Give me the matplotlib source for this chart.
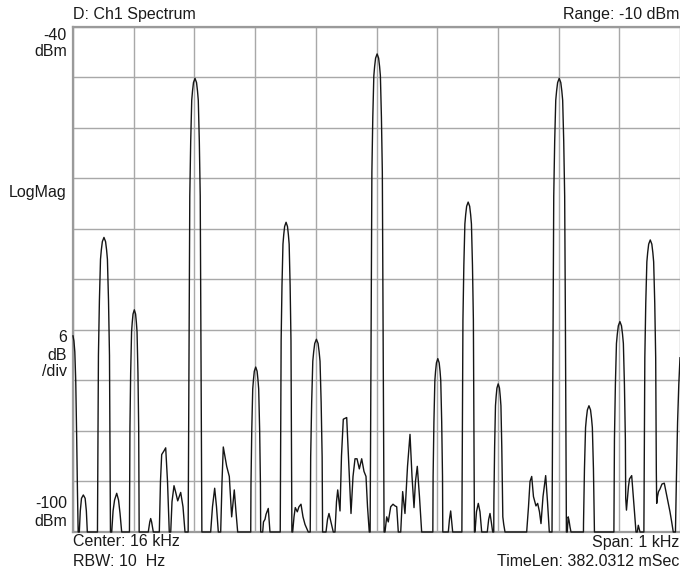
import numpy as np
import matplotlib
matplotlib.use("Agg")
import matplotlib.pyplot as plt

freq_hz = [
    15500.0, 15501.5, 15503.0, 15504.5, 15506.0, 15507.3, 15508.5,
    15510.4, 15512.0, 15514.0, 15517.0, 15520.0, 15522.0, 15523.6,
    15540.3, 15540.8, 15541.35, 15541.9, 15543.5, 15545.3, 15546.65, 15548.35, 15551.0,
    15553.65, 15555.35, 15556.7, 15558.5, 15560.1, 15560.65, 15561.2, 15561.7,
    15563.8, 15566.0, 15568.5, 15572.0, 15575.0, 15577.5, 15580.2,
    15593.0, 15593.4, 15593.8, 15595.0, 15596.5, 15597.6, 15598.9, 15601.0,
    15603.1, 15604.4, 15605.5, 15607.0, 15608.2, 15608.6, 15609.0,
    15624.0, 15626.5, 15628.0, 15629.5, 15632.3,
    15642.2, 15644.1, 15646.1, 15650.4, 15652.7, 15655.7, 15658.6,
    15661.0, 15663.1, 15666.4, 15668.9, 15672.5, 15677.4, 15681.2, 15684.5,
    15689.7, 15690.5, 15691.4, 15691.9, 15692.4, 15693.9, 15695.6, 15696.9, 15698.5, 15701.0,
    15703.5, 15705.1, 15706.4, 15708.1, 15709.6, 15710.1, 15710.6, 15711.5, 15712.3,
    15726.8, 15729.8, 15733.4, 15736.4, 15739.4,
    15743.3, 15745.5, 15747.6, 15753.2, 15757.5, 15761.4, 15765.7, 15768.5, 15771.3,
    15792.8, 15793.2, 15794.5, 15796.1, 15797.3, 15798.7, 15801.0,
    15803.3, 15804.7, 15805.9, 15807.5, 15808.8, 15809.2,
    15812.5, 15813.8, 15816.3, 15818.0, 15821.7, 15824.5,
    15841.4, 15842.0, 15842.45, 15842.9, 15844.3, 15845.9, 15847.15, 15848.65, 15851.0,
    15853.35, 15854.85, 15856.1, 15857.7, 15859.1, 15859.55, 15860.0, 15860.6,
    15861.9, 15864.1, 15866.2, 15869.5, 15872.3, 15875.6, 15878.9, 15882.2, 15887.6,
    15890.8, 15891.0, 15891.55, 15893.2, 15895.05, 15896.5, 15898.25, 15901.0,
    15903.75, 15905.5, 15906.95, 15908.8, 15910.45, 15911.0, 15911.2,
    15916.8, 15919.3, 15921.7, 15925.0, 15928.8,
    15931.6, 15934.1, 15936.1, 15939.9, 15942.3, 15945.3, 15950.9, 15953.0, 15958.0,
    15961.3, 15964.6, 15967.9, 15971.7, 15975.6, 15979.4, 15982.7, 15985.2, 15988.1,
    15989.5, 15990.5, 15991.4, 15991.9, 15992.4, 15993.9, 15995.6, 15996.9, 15998.5, 16001.0,
    16003.5, 16005.1, 16006.4, 16008.1, 16009.6, 16010.1, 16010.6, 16011.5, 16012.5,
    16014.0, 16016.8, 16019.4, 16023.4, 16027.2, 16030.5, 16033.3, 16035.9,
    16039.9, 16043.1, 16046.9, 16051.1, 16055.2, 16058.5, 16061.8, 16064.2, 16067.2,
    16070.8, 16074.4,
    16092.8, 16093.25, 16094.6, 16096.15, 16097.3, 16098.75, 16101.0,
    16103.25, 16104.7, 16105.85, 16107.4, 16108.75, 16109.2,
    16118.3, 16120.2, 16122.2, 16124.0, 16125.5,
    16140.65, 16141.4, 16141.9, 16142.4, 16143.9, 16145.6, 16146.9, 16148.5, 16151.0,
    16153.5, 16155.1, 16156.4, 16158.1, 16159.6, 16160.1, 16160.6, 16161.35,
    16162.3, 16164.7, 16167.7, 16170.5, 16173.3,
    16182.5, 16184.8, 16187.0, 16189.1, 16191.4,
    16193.15, 16193.4, 16194.6, 16196.0, 16197.1, 16198.4, 16200.5,
    16202.6, 16203.9, 16205.0, 16206.4, 16207.6, 16208.1, 16209.6, 16211.7,
    16247.4, 16250.4, 16252.9, 16255.7, 16258.6, 16262.7, 16265.5, 16268.5, 16271.0,
    16274.3, 16278.7, 16281.7, 16284.7,
    16289.15, 16290.0, 16290.9, 16291.45, 16292.0, 16293.55, 16295.3, 16296.7, 16298.4, 16301.0,
    16303.6, 16305.3, 16306.7, 16308.45, 16310.0, 16310.55, 16311.1, 16312.0, 16312.85,
    16314.3, 16315.8, 16317.1, 16318.8, 16320.4,
    16340.95, 16341.05, 16342.6, 16344.4, 16345.75, 16347.4, 16350.0,
    16352.6, 16354.25, 16355.6, 16357.4, 16358.95, 16359.05,
    16391.1, 16391.45, 16392.0, 16393.55, 16395.3, 16396.7, 16398.4, 16401.0,
    16403.6, 16405.3, 16406.7, 16408.45, 16410.0, 16410.55, 16411.8,
    16415.1, 16416.8, 16420.4, 16422.5, 16425.0, 16427.5, 16429.6, 16431.3, 16434.1,
    16440.5, 16441.0, 16441.55, 16442.05, 16443.6, 16445.4, 16446.75, 16448.4, 16451.0,
    16453.6, 16455.25, 16456.6, 16458.4, 16459.95, 16460.45, 16461.0, 16461.6,
    16462.9, 16464.6, 16467.0, 16470.3, 16474.1, 16476.9, 16480.7, 16483.5, 16486.3,
    16488.9,
    16492.5, 16494.0, 16496.0, 16498.0, 16500.0,
]

nivel_dbm = [
    -76.7, -77.3, -78.6, -82.0, -88.5, -95.0, -100,
    -100, -97.5, -96.0, -95.6, -96.0, -97.5, -100,
    -100, -92.5, -86.0, -79.0, -72.5, -67.6, -66.5, -65.5, -65.0,
    -65.5, -66.5, -67.6, -72.5, -79.0, -86.0, -92.5, -100,
    -100, -97.5, -96.2, -95.4, -96.2, -97.8, -100,
    -100, -94.6, -87.6, -81.1, -76.2, -75.1, -74.1, -73.6,
    -74.1, -75.1, -76.2, -81.1, -87.6, -94.6, -100,
    -100, -98.8, -98.4, -98.8, -100,
    -100, -94.0, -90.8, -90.3, -90.0, -94.0, -100,
    -100, -96.4, -94.5, -95.2, -96.3, -95.3, -97.0, -100,
    -100, -88.1, -73.6, -67.1, -60.1, -53.6, -48.7, -47.6, -46.6, -46.1,
    -46.6, -47.6, -48.7, -53.6, -60.1, -67.1, -73.6, -88.1, -100,
    -100, -97.0, -94.8, -97.0, -100,
    -100, -94.0, -89.9, -92.2, -93.4, -98.2, -95.0, -97.6, -100,
    -100, -94.4, -87.9, -83.0, -81.9, -80.9, -80.4,
    -80.9, -81.9, -83.0, -87.9, -94.4, -100,
    -100, -98.8, -98.5, -97.9, -97.2, -100,
    -100, -90.7, -84.2, -77.2, -70.7, -65.8, -64.7, -63.7, -63.2,
    -63.7, -64.7, -65.8, -70.7, -77.2, -84.2, -90.7, -100,
    -100, -98.2, -97.1, -97.6, -97.0, -96.7, -98.2, -99.1, -100,
    -100, -98.1, -91.1, -84.6, -79.7, -78.6, -77.6, -77.1,
    -77.6, -78.6, -79.7, -84.6, -91.1, -98.1, -100,
    -100, -98.5, -97.8, -98.8, -100,
    -100, -96.4, -95.0, -97.5, -91.0, -86.6, -86.4, -89.8, -97.8,
    -93.4, -91.3, -91.3, -92.5, -91.3, -92.8, -93.4, -97.0, -100,
    -100, -85.2, -70.7, -64.2, -57.2, -50.7, -45.8, -44.7, -43.7, -43.2,
    -43.7, -44.7, -45.8, -50.7, -57.2, -64.2, -70.7, -85.2, -100,
    -100, -98.2, -98.8, -97.0, -96.7, -96.9, -97.0, -100,
    -100, -95.2, -97.8, -92.2, -88.4, -93.4, -97.1, -94.0, -92.2,
    -95.8, -100,
    -100, -93.4, -86.9, -82.0, -80.9, -79.9, -79.4,
    -79.9, -80.9, -82.0, -86.9, -93.4, -100,
    -100, -98.5, -97.5, -98.8, -100,
    -100, -88.3, -81.8, -74.8, -68.3, -63.4, -62.3, -61.3, -60.8,
    -61.3, -62.3, -63.4, -68.3, -74.8, -81.8, -88.3, -100,
    -100, -97.6, -96.6, -97.6, -100,
    -100, -98.5, -97.8, -98.8, -100,
    -100, -96.4, -89.9, -85.0, -83.9, -82.9, -82.4,
    -82.9, -83.9, -85.0, -89.9, -96.4, -98.2, -99.1, -100,
    -100, -97.0, -94.0, -93.4, -95.8, -96.9, -96.6, -97.6, -99.0,
    -95.8, -93.3, -96.4, -100,
    -100, -88.1, -73.6, -67.1, -60.1, -53.6, -48.7, -47.6, -46.6, -46.1,
    -46.6, -47.6, -48.7, -53.6, -60.1, -67.1, -73.6, -88.1, -100,
    -100, -98.2, -98.6, -99.4, -100,
    -100, -99.0, -92.5, -87.6, -86.5, -85.5, -85.0,
    -85.5, -86.5, -87.6, -92.5, -99.0, -100,
    -100, -96.0, -89.0, -82.5, -77.6, -76.5, -75.5, -75.0,
    -75.5, -76.5, -77.6, -82.5, -89.0, -96.0, -97.4,
    -94.6, -93.7, -93.3, -95.2, -97.6, -100, -100, -99.2, -100,
    -100, -92.8, -86.3, -79.3, -72.8, -67.9, -66.8, -65.8, -65.3,
    -65.8, -66.8, -67.9, -72.8, -79.3, -86.3, -92.8, -96.6,
    -95.8, -95.2, -94.9, -94.3, -94.2, -95.2, -96.6, -97.6, -98.8,
    -100,
    -100, -94.0, -87.0, -82.5, -79.3,
]

# configuracao da tela
centro_hz = 16000
span_hz = 1000
ref_dbm = -40
escala_db = 6
n_div = 10

plt.rcParams['font.family'] = ['Liberation Sans', 'DejaVu Sans']

fig = plt.figure(figsize=(6.8, 5.69), dpi=100)
ax = fig.add_axes([73/680, 37/569, 607/680, 505/569])

ax.plot(freq_hz, nivel_dbm, color='#151515', lw=1.0, clip_on=False, zorder=3)

ax.set_xlim(centro_hz - span_hz/2, centro_hz + span_hz/2)
ax.set_ylim(ref_dbm - escala_db*n_div, ref_dbm)
ax.set_xticks(np.linspace(centro_hz - span_hz/2, centro_hz + span_hz/2, n_div + 1))
ax.set_yticks(np.linspace(ref_dbm - escala_db*n_div, ref_dbm, n_div + 1))
ax.tick_params(length=0, labelbottom=False, labelleft=False)
ax.grid(True, color='#a8a8a8', lw=1.0)
ax.set_axisbelow(True)
for lado in ['left', 'top', 'bottom']:
    ax.spines[lado].set_color('#9a9a9a')
    ax.spines[lado].set_linewidth(1.6)
ax.spines['right'].set_visible(False)

fs = 11.5
cor = '#1a1a1a'
fig.text(73/680, 1 - 15/569, "D: Ch1 Spectrum", ha='left', va='center', fontsize=fs, color=cor)
fig.text(679/680, 1 - 15/569, "Range: -10 dBm", ha='right', va='center', fontsize=fs, color=cor)
fig.text(67/680, 1 - 35/569, "-40", ha='right', va='center', fontsize=fs, color=cor)
fig.text(67/680, 1 - 52/569, "dBm", ha='right', va='center', fontsize=fs, color=cor)
fig.text(67/680, 1 - 192/569, "LogMag", ha='right', va='center', fontsize=fs, color=cor)
fig.text(67/680, 1 - 338/569, "6", ha='right', va='center', fontsize=fs, color=cor)
fig.text(67/680, 1 - 355/569, "dB", ha='right', va='center', fontsize=fs, color=cor)
fig.text(67/680, 1 - 372/569, "/div", ha='right', va='center', fontsize=fs, color=cor)
fig.text(67/680, 1 - 503/569, "-100", ha='right', va='center', fontsize=fs, color=cor)
fig.text(67/680, 1 - 522/569, "dBm", ha='right', va='center', fontsize=fs, color=cor)
fig.text(73/680, 1 - 542/569, "Center: 16 kHz", ha='left', va='center', fontsize=fs, color=cor)
fig.text(73/680, 1 - 561/569, "RBW: 10  Hz", ha='left', va='center', fontsize=fs, color=cor)
fig.text(679/680, 1 - 542/569, "Span: 1 kHz", ha='right', va='center', fontsize=fs, color=cor)
fig.text(679/680, 1 - 561/569, "TimeLen: 382.0312 mSec", ha='right', va='center', fontsize=fs, color=cor)

fig.savefig("out.png", dpi=100)
